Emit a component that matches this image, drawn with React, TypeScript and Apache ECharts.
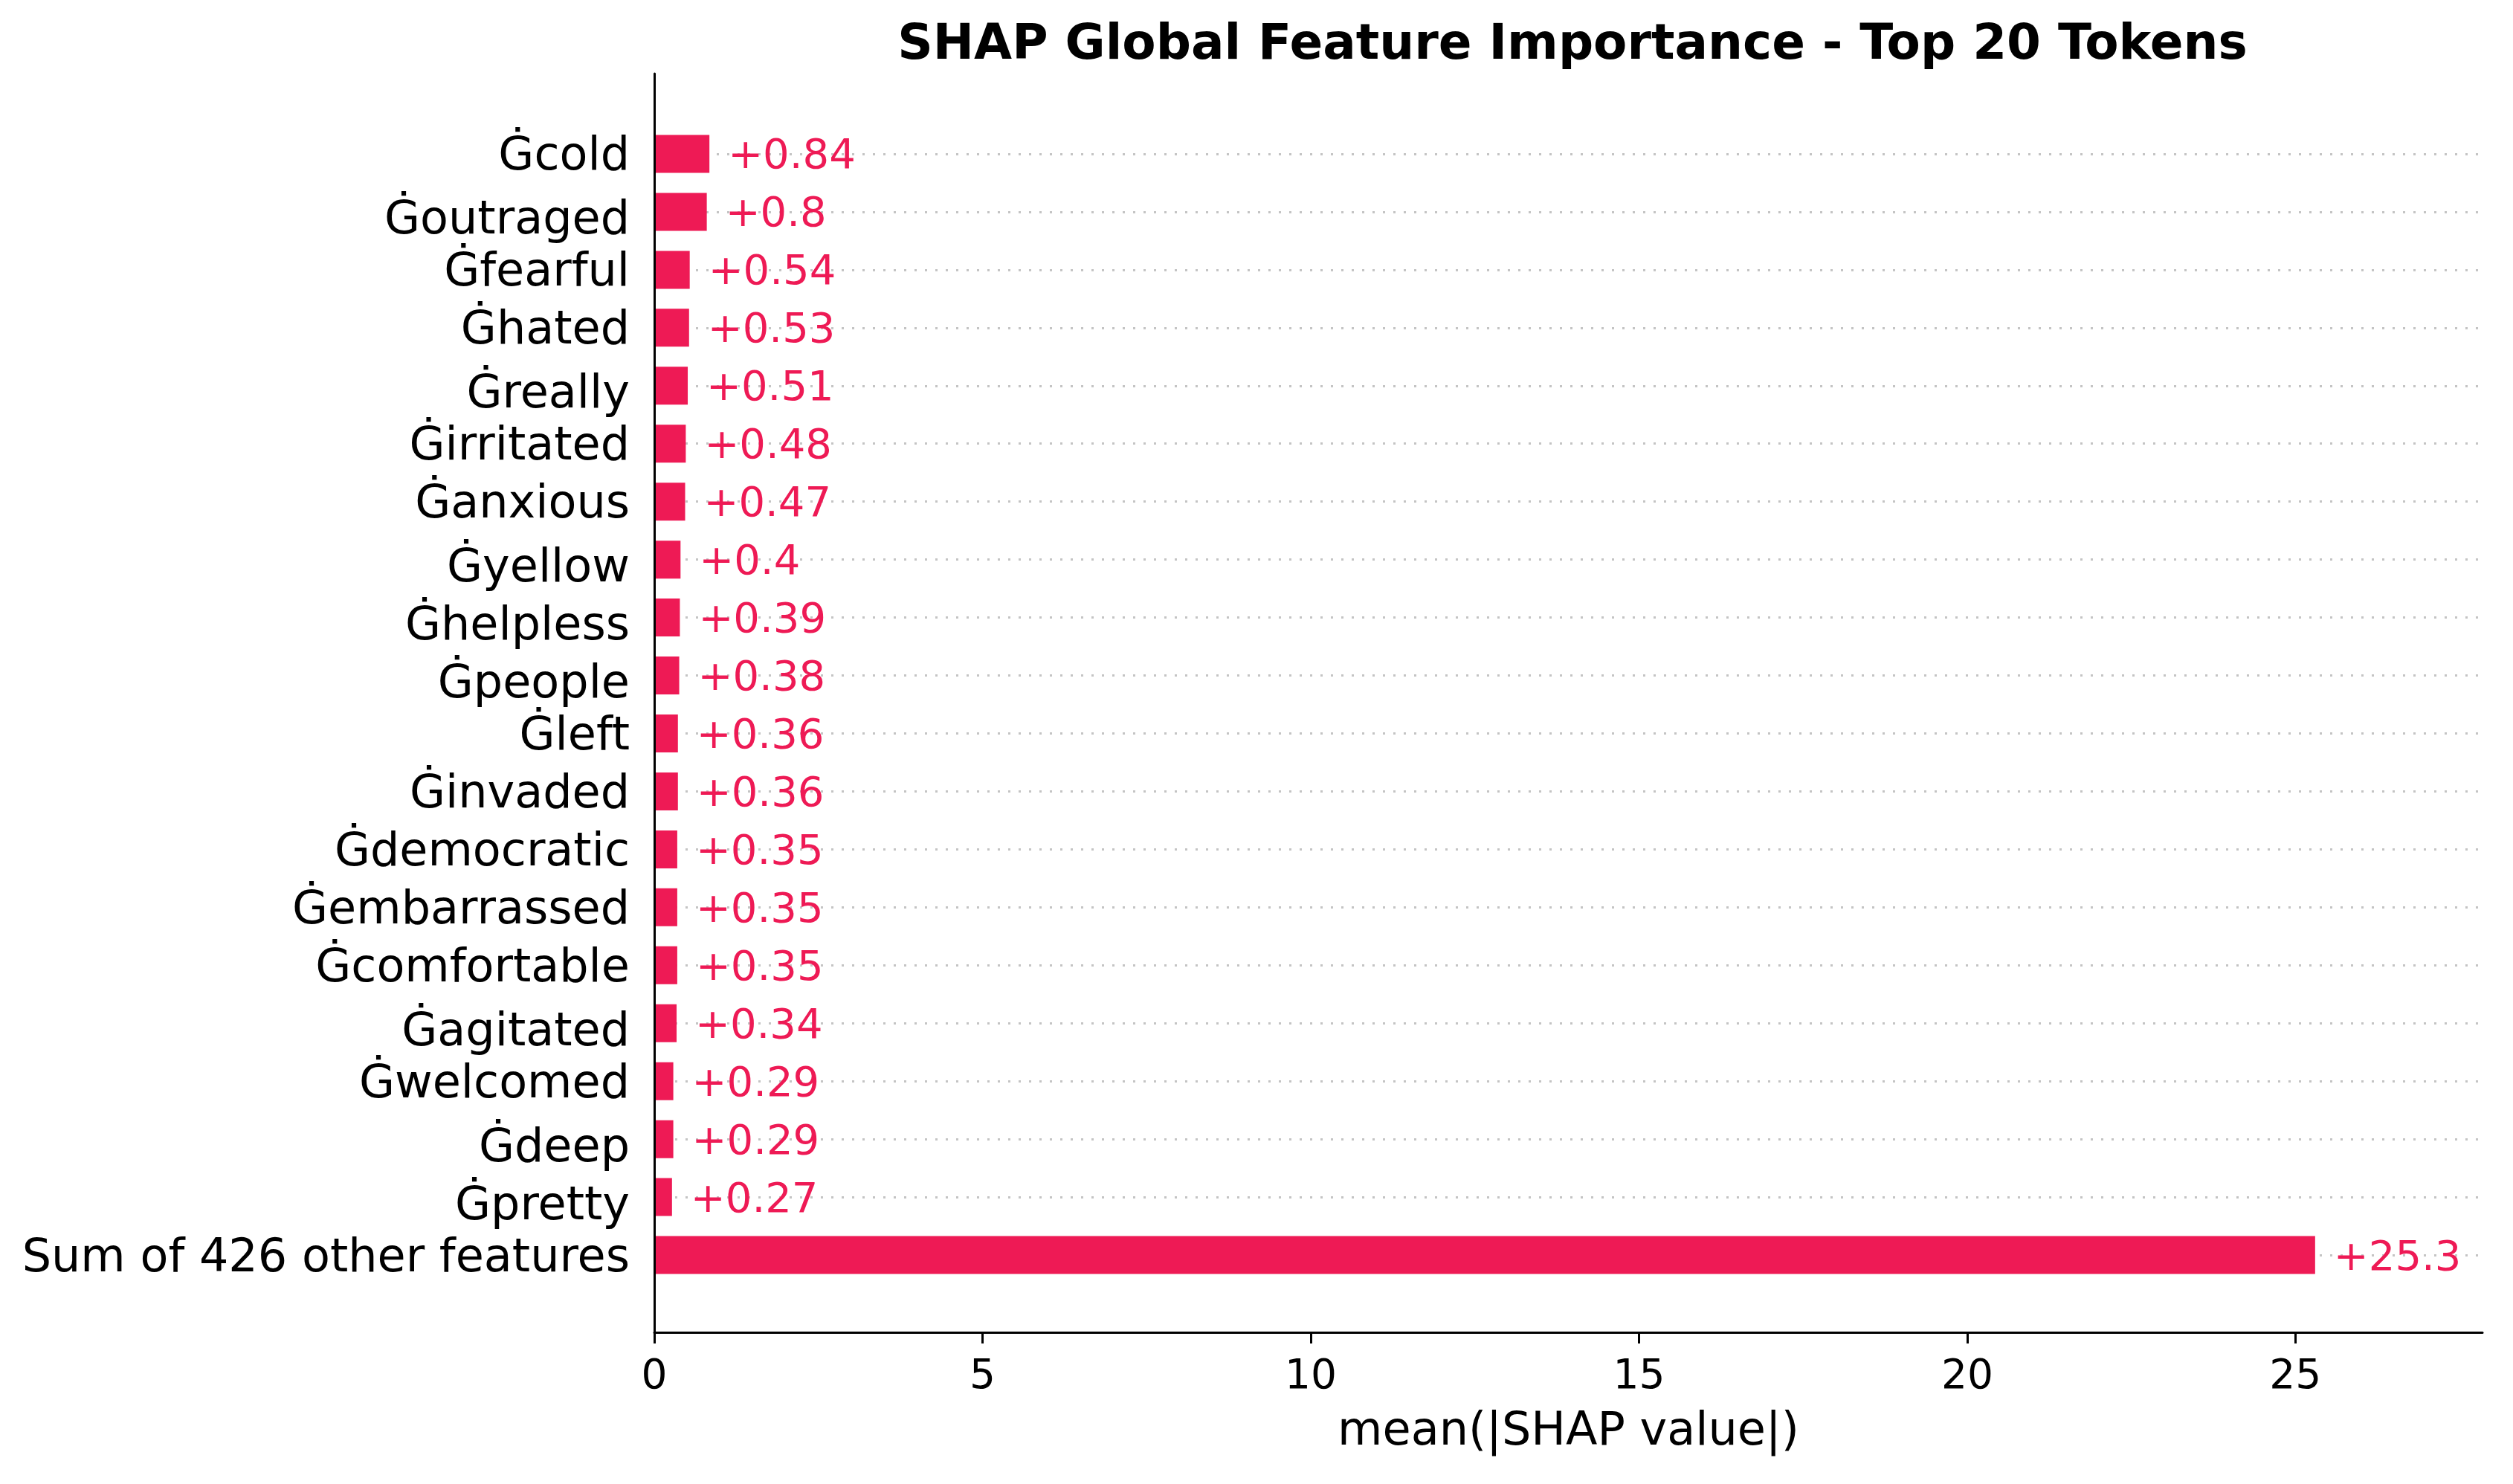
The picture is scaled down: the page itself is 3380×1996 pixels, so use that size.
import React, { useEffect, useRef } from "react";
import * as echarts from "echarts";

const TITLE = "SHAP Global Feature Importance - Top 20 Tokens";
const X_NAME = "mean(|SHAP value|)";
const FEATURES = [
  "Ġcold",
  "Ġoutraged",
  "Ġfearful",
  "Ġhated",
  "Ġreally",
  "Ġirritated",
  "Ġanxious",
  "Ġyellow",
  "Ġhelpless",
  "Ġpeople",
  "Ġleft",
  "Ġinvaded",
  "Ġdemocratic",
  "Ġembarrassed",
  "Ġcomfortable",
  "Ġagitated",
  "Ġwelcomed",
  "Ġdeep",
  "Ġpretty",
  "Sum of 426 other features",
];
const VALUES = [
  0.84, 0.8, 0.54, 0.53, 0.51, 0.48, 0.47, 0.4, 0.39, 0.38, 0.36, 0.36, 0.35,
  0.35, 0.35, 0.34, 0.29, 0.29, 0.27, 25.3,
];
const X_TICKS = [0, 5, 10, 15, 20, 25];
const X_MAX = 27.85;

const RED = "#ee1a55";
const FONT = "DejaVu Sans";

export default function App() {
  const ref = useRef<HTMLDivElement>(null);

  useEffect(() => {
    document.body.style.margin = "0";
    if (!ref.current) return;
    const chart = echarts.init(ref.current, null, { renderer: "svg" });
    const labelStyle = { fontFamily: FONT, fontSize: 62, color: "#000" };
    const option = {
      animation: false,
      backgroundColor: "#ffffff",
      title: {
        text: TITLE,
        left: 2110,
        top: 18,
        textAlign: "center",
        textStyle: {
          fontFamily: FONT,
          fontSize: 66,
          fontWeight: "bold",
          color: "#000",
        },
      },
      grid: [
        { left: 880, right: 41, top: 99, bottom: 204 },
        { left: 880, right: 41, top: 168, bottom: 269 },
      ],
      xAxis: [
        {
          type: "value",
          gridIndex: 0,
          min: 0,
          max: X_MAX,
          interval: 5,
          z: 3,
          name: X_NAME,
          nameLocation: "middle",
          nameGap: 98,
          nameTextStyle: { fontFamily: FONT, fontSize: 62, color: "#000" },
          axisLine: { show: true, lineStyle: { color: "#000", width: 3 } },
          axisTick: {
            show: true,
            length: 15,
            lineStyle: { color: "#000", width: 3 },
            customValues: X_TICKS,
          },
          axisLabel: {
            fontFamily: FONT,
            fontSize: 55,
            color: "#000",
            margin: 28,
            customValues: X_TICKS,
          },
          splitLine: { show: false },
        },
        {
          type: "value",
          gridIndex: 1,
          min: 0,
          max: X_MAX,
          show: false,
          splitLine: { show: false },
        },
      ],
      yAxis: [
        {
          type: "value",
          gridIndex: 0,
          min: 0,
          max: 1,
          z: 3,
          axisLine: { show: true, lineStyle: { color: "#000", width: 3 } },
          axisTick: { show: false },
          axisLabel: { show: false },
          splitLine: { show: false },
        },
        {
          type: "category",
          gridIndex: 1,
          data: FEATURES,
          inverse: true,
          axisLine: { show: false },
          axisTick: { show: false },
          splitLine: { show: false },
          axisLabel: {
            interval: 0,
            ...labelStyle,
            margin: 33,
            formatter: (v: string) =>
              /[gypqj]/.test(v) ? "{d|" + v + "}" : "{n|" + v + "}",
            rich: {
              n: { ...labelStyle },
              d: { ...labelStyle, padding: [16, 0, 0, 0] },
            },
          },
        },
      ],
      series: [
        {
          type: "bar",
          xAxisIndex: 1,
          yAxisIndex: 1,
          data: VALUES,
          barWidth: 51,
          z: 2,
          itemStyle: { color: RED },
          label: {
            show: true,
            position: "right",
            distance: 25,
            fontFamily: FONT,
            fontSize: 56,
            color: RED,
            formatter: (p: any) => "+" + p.value,
          },
          markLine: {
            z: 1,
            silent: true,
            symbol: ["none", "none"],
            label: { show: false },
            lineStyle: { color: "#c4c4c4", width: 3, type: [3, 11] },
            data: FEATURES.map((f) => ({ yAxis: f })),
          },
        },
      ],
    };
    chart.setOption(option as any);
    return () => chart.dispose();
  }, []);

  return <div ref={ref} style={{ width: 3380, height: 1996 }} />;
}
